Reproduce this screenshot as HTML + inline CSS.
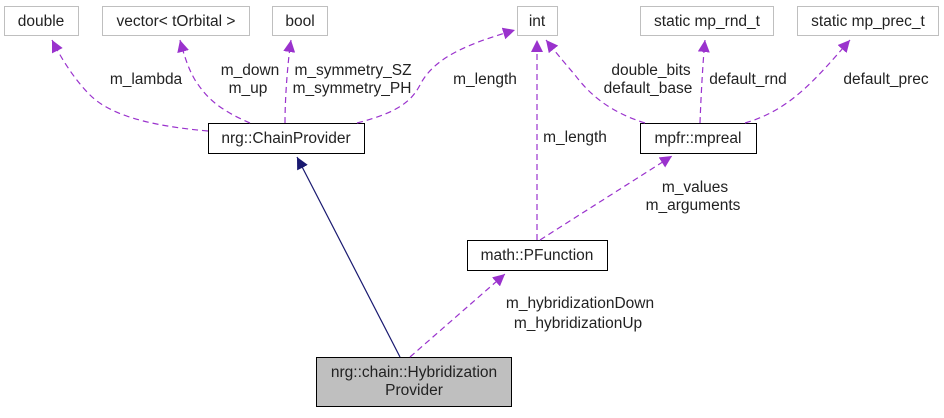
<!DOCTYPE html>
<html><head><meta charset="utf-8"><style>
body{margin:0;background:#fff;}
svg text{font-family:"Liberation Sans",sans-serif;font-size:15.5px;fill:#222;}
</style></head><body>
<svg width="944" height="413" viewBox="0 0 944 413" xmlns="http://www.w3.org/2000/svg">
<defs>
<marker id="p" markerWidth="12" markerHeight="12" refX="10" refY="5" orient="auto" markerUnits="userSpaceOnUse" viewBox="0 0 10 10"><path d="M0,0 L10,5 L0,10 z" fill="#9a32cd"/></marker>
<marker id="n" markerWidth="12" markerHeight="12" refX="10" refY="5" orient="auto" markerUnits="userSpaceOnUse" viewBox="0 0 10 10"><path d="M0,0 L10,5 L0,10 z" fill="#191970"/></marker>
</defs>
<g fill="#fff" stroke="#bfbfbf" stroke-width="1">
<rect x="4.5" y="6.5" width="74" height="29"/>
<rect x="102.5" y="6.5" width="147" height="29"/>
<rect x="272.5" y="6.5" width="55" height="29"/>
<rect x="517.5" y="6.5" width="40" height="29"/>
<rect x="640.5" y="6.5" width="133" height="29"/>
<rect x="797.5" y="6.5" width="141" height="29"/>
</g>
<g fill="#fff" stroke="#000" stroke-width="1">
<rect x="208.5" y="123.5" width="156" height="30"/>
<rect x="640.5" y="123.5" width="116" height="30"/>
<rect x="467.5" y="240.5" width="140" height="30"/>
<rect x="316.5" y="357.5" width="195" height="49" fill="#bfbfbf"/>
</g>
<g fill="none" stroke="#9a32cd" stroke-width="1.2" stroke-dasharray="6,4">
<path d="M208,131 C150,126 110,115 90,95 C75,80 62,60 52,40" marker-end="url(#p)"/>
<path d="M250,123 C215,108 205,95 195,80 C188,68 184,55 180,40" marker-end="url(#p)"/>
<path d="M285,123 C285,95 288,60 291,40" marker-end="url(#p)"/>
<path d="M357,123 C400,112 412,100 420,85 C435,55 475,42 515,30" marker-end="url(#p)"/>
<path d="M537,240 L537,40" marker-end="url(#p)"/>
<path d="M645,123 C610,112 590,95 575,75 C562,60 554,50 546,40" marker-end="url(#p)"/>
<path d="M700,123 C701,95 703,60 705,40" marker-end="url(#p)"/>
<path d="M745,123 C790,110 815,80 850,40" marker-end="url(#p)"/>
<path d="M540,240 L672,156" marker-end="url(#p)"/>
<path d="M410,357 L505,274" marker-end="url(#p)"/>
</g>
<path d="M400,357 L297,157" stroke="#191970" stroke-width="1.2" fill="none" marker-end="url(#n)"/>
<g text-anchor="middle">
<text x="41" y="26">double</text>
<text x="176" y="26">vector&lt; tOrbital &gt;</text>
<text x="300" y="26">bool</text>
<text x="537" y="26">int</text>
<text x="707" y="26">static mp_rnd_t</text>
<text x="868" y="26">static mp_prec_t</text>
<text x="286" y="143" fill="#000">nrg::ChainProvider</text>
<text x="698" y="143" fill="#000">mpfr::mpreal</text>
<text x="537" y="260" fill="#000">math::PFunction</text>
<text x="414" y="377" fill="#000">nrg::chain::Hybridization</text>
<text x="414" y="395" fill="#000">Provider</text>
<text x="146" y="84">m_lambda</text>
<text x="250" y="75">m_down</text>
<text x="248" y="93">m_up</text>
<text x="353" y="75">m_symmetry_SZ</text>
<text x="352" y="93">m_symmetry_PH</text>
<text x="485" y="84">m_length</text>
<text x="575" y="142">m_length</text>
<text x="651" y="75">double_bits</text>
<text x="648" y="93">default_base</text>
<text x="748" y="84">default_rnd</text>
<text x="886" y="84">default_prec</text>
<text x="695" y="192">m_values</text>
<text x="693" y="210">m_arguments</text>
<text x="580" y="308">m_hybridizationDown</text>
<text x="578" y="328">m_hybridizationUp</text>
</g>
</svg>
</body></html>
